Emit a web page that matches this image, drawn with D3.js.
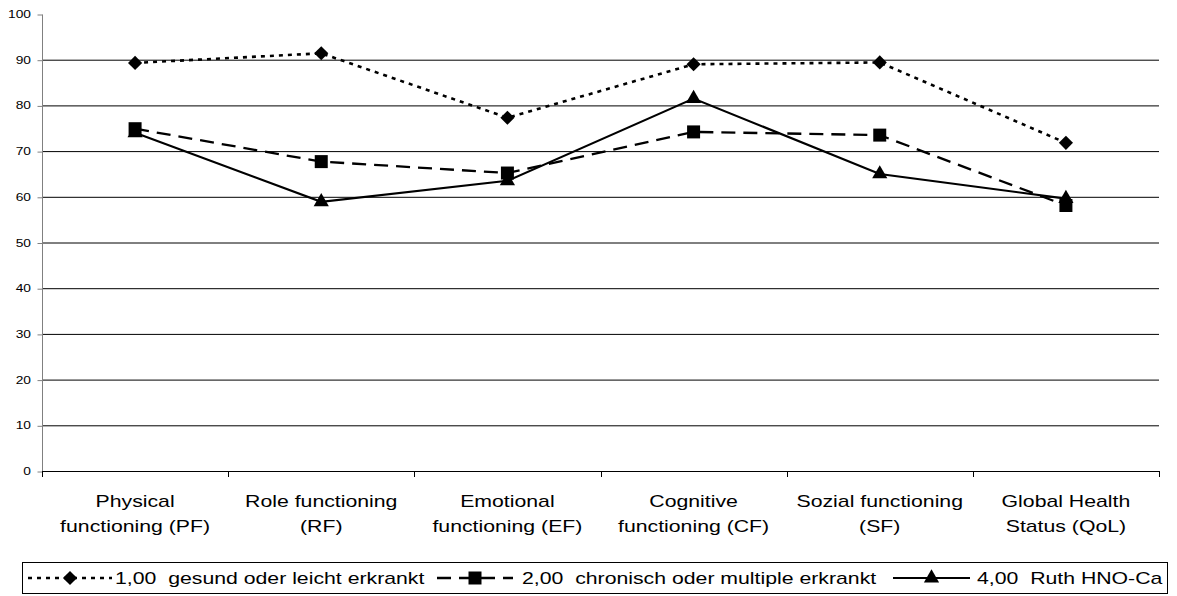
<!DOCTYPE html>
<html><head><meta charset="utf-8">
<script src="https://cdn.jsdelivr.net/npm/d3@7"></script>
<style>body{margin:0;background:#fff}svg{display:block}text{font-family:"Liberation Sans",Arial,sans-serif;fill:#000}</style>
</head><body>
<svg id="c" width="1177" height="596"></svg>
<script>
const categories = [["Physical","functioning (PF)"],["Role functioning","(RF)"],["Emotional","functioning (EF)"],["Cognitive","functioning (CF)"],["Sozial functioning","(SF)"],["Global Health","Status (QoL)"]];
const seriesNames = ["1,00  gesund oder leicht erkrankt","2,00  chronisch oder multiple erkrankt","4,00  Ruth HNO-Ca"];
const s1 = [89.3, 91.4, 77.3, 89.0, 89.4, 71.8];
const s2 = [74.9, 67.7, 65.2, 74.2, 73.5, 58.1];
const s3 = [74.0, 58.9, 63.5, 81.5, 65.0, 59.6];
const yTicks = [0,10,20,30,40,50,60,70,80,90,100];

const SX = 1.25; // horizontal stretch of text in the reference
const svg = d3.select("#c");
const L=42, R=1159, T=14, B=471;
const x = d3.scaleBand().domain(d3.range(categories.length)).range([L,R]);
const y = d3.scaleLinear().domain([0,100]).range([B,T]);

function txt(g, tx, ty, s, size, anchor){
  return g.append("text").attr("transform",`translate(${tx},${ty}) scale(${SX},1)`)
    .attr("text-anchor",anchor||"start").style("font-size",size+"px")
    .style("white-space","pre").text(s);
}

// gridlines
svg.append("g").selectAll("line").data(yTicks.filter(d=>d>0&&d<100)).join("line")
  .attr("x1",L).attr("x2",R).attr("y1",d=>y(d)+0.5).attr("y2",d=>y(d)+0.5)
  .attr("stroke","#000").attr("stroke-width",1);

// y axis
const ya = svg.append("g").attr("transform",`translate(${L+0.5},0.5)`)
  .call(d3.axisLeft(y).tickValues(yTicks).tickSize(5).tickPadding(5));
ya.selectAll("path,line").attr("stroke","#808080");
ya.selectAll("text").remove();
ya.select(".domain").attr("d",`M0,${T}V${B}`);
const yl = svg.append("g");
yTicks.forEach(v=>txt(yl, 31, y(v)+4, String(v), 11, "end"));

// x axis
svg.append("line").attr("x1",L).attr("x2",R).attr("y1",B+0.5).attr("y2",B+0.5).attr("stroke","#000");
const bounds = d3.range(categories.length+1).map(i=> i<categories.length ? x(i) : x(i-1)+x.bandwidth());
svg.append("g").selectAll("line").data(bounds).join("line")
  .attr("x1",d=>Math.round(d)+0.5).attr("x2",d=>Math.round(d)+0.5).attr("y1",B).attr("y2",B+6)
  .attr("stroke","#000");
const cx = i=>x(i)+x.bandwidth()/2;
const cg = svg.append("g");
categories.forEach((c,i)=>{
  txt(cg, cx(i), 507, c[0], 17, "middle");
  txt(cg, cx(i), 532, c[1], 17, "middle");
});

const diamond = {draw(ctx,size){const r=Math.sqrt(size)/2*Math.SQRT2;ctx.moveTo(0,-r);ctx.lineTo(r,0);ctx.lineTo(0,r);ctx.lineTo(-r,0);ctx.closePath();}};
const styles = [
  {data:s1, dash:"4,5", w:2.6, sym:diamond, size:100},
  {data:s2, dash:"14,8", w:2.3, sym:d3.symbolSquare, size:169},
  {data:s3, dash:null, w:2.1, sym:d3.symbolTriangle, size:100}
];
const line = d3.line().x((d,i)=>cx(i)).y(d=>y(d));
styles.forEach(s=>{
  svg.append("path").attr("d",line(s.data)).attr("fill","none").attr("stroke","#000")
    .attr("stroke-width",s.w).attr("stroke-dasharray",s.dash);
  svg.append("g").selectAll("path").data(s.data).join("path")
    .attr("d",d3.symbol().type(s.sym).size(s.size))
    .attr("transform",(d,i)=>`translate(${cx(i)},${y(d)})`).attr("fill","#000");
});

// legend
const lg = svg.append("g");
lg.append("rect").attr("x",22.5).attr("y",562.5).attr("width",1145).attr("height",31)
  .attr("fill","#fff").attr("stroke","#000");
const items = [{x0:28,x1:112,tx:115},{x0:437,x1:513,tx:522},{x0:893,x1:970,tx:977}];
items.forEach((it,k)=>{
  const s = styles[k], ly=578;
  lg.append("line").attr("x1",it.x0).attr("x2",it.x1).attr("y1",ly).attr("y2",ly)
    .attr("stroke","#000").attr("stroke-width",s.w).attr("stroke-dasharray",s.dash);
  lg.append("path").attr("d",d3.symbol().type(s.sym).size(s.size)())
    .attr("transform",`translate(${(it.x0+it.x1)/2},${ly})`).attr("fill","#000");
  txt(lg, it.tx, 584, seriesNames[k], 17, "start");
});
</script>
</body></html>
